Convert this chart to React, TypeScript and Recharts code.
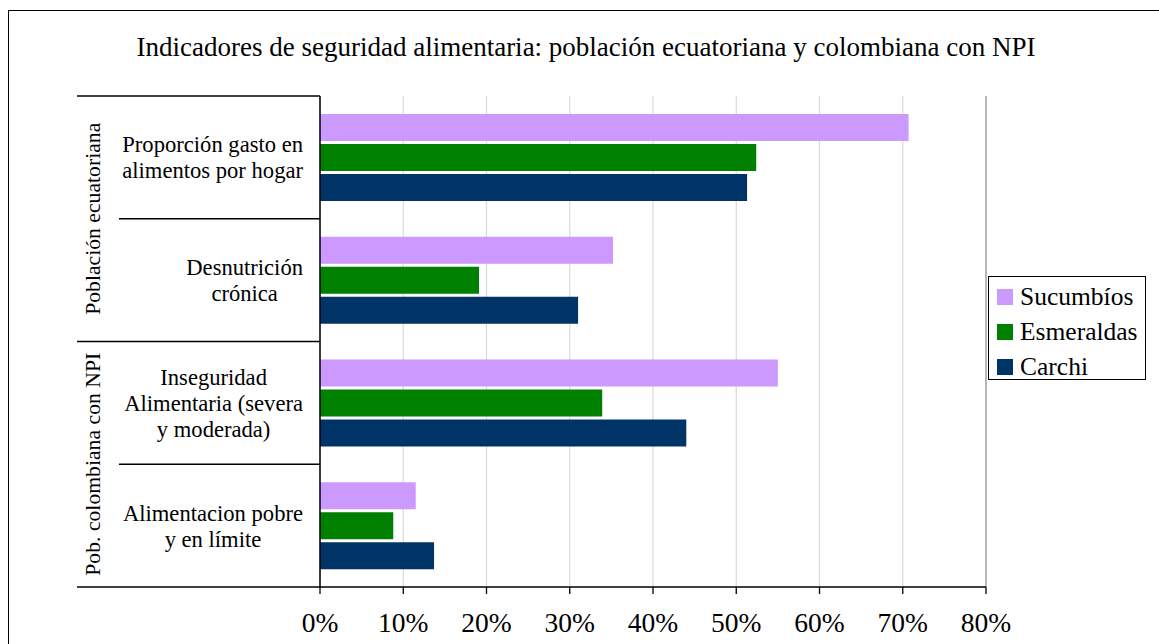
import React from 'react';
import { BarChart, Bar, XAxis, YAxis, CartesianGrid, ReferenceLine } from 'recharts';

const categories = [
  'Proporción gasto en alimentos por hogar',
  'Desnutrición crónica',
  'Inseguridad Alimentaria (severa y moderada)',
  'Alimentacion pobre y en límite',
];
const categoryLines = [
  ['Proporción gasto en', 'alimentos por hogar'],
  ['Desnutrición', 'crónica'],
  ['Inseguridad', 'Alimentaria (severa', 'y moderada)'],
  ['Alimentacion pobre', 'y en límite'],
];
const groups = [
  { label: 'Población ecuatoriana', start: 0, count: 2 },
  { label: 'Pob. colombiana con NPI', start: 2, count: 2 },
];
const sucumbios = [0.707, 0.352, 0.55, 0.115];
const esmeraldas = [0.524, 0.191, 0.339, 0.088];
const carchi = [0.513, 0.31, 0.44, 0.137];
const seriesNames = ['Sucumbíos', 'Esmeraldas', 'Carchi'];
const seriesColors = ['#CC99FF', '#008000', '#003366'];
const xTicks = [0, 0.1, 0.2, 0.3, 0.4, 0.5, 0.6, 0.7, 0.8];
const title = 'Indicadores de seguridad alimentaria: población ecuatoriana y colombiana con NPI';

const data = categories.map((c, i) => ({
  name: c,
  s: sucumbios[i],
  e: esmeraldas[i],
  c: carchi[i],
}));

const FONT = '"Liberation Serif", serif';
const W = 1159;
const H = 644;
const M = { top: 96, right: 173, bottom: 5, left: 20 };
const Y_AXIS_W = 300;
const X_AXIS_H = 52;
const plotTop = M.top;
const plotBottom = H - M.bottom - X_AXIS_H;
const plotLeft = M.left + Y_AXIS_W;
const band = (plotBottom - plotTop) / categories.length;

let ctx: CanvasRenderingContext2D | null = null;
function measure(text: string, size: number) {
  if (!ctx) {
    const cv = document.createElement('canvas');
    ctx = cv.getContext('2d');
  }
  if (!ctx) return text.length * size * 0.45;
  ctx.font = `${size}px ${FONT}`;
  return ctx.measureText(text).width;
}

const LABEL_SIZE = 22.6;
const LINE_H = 26;

const CategoryTick = (props: any) => {
  const { y, payload, index } = props;
  const lines = categoryLines[index] || [String(payload.value)];
  const maxW = Math.max(...lines.map((l) => measure(l, LABEL_SIZE)));
  const cx = plotLeft - 17 - maxW / 2;
  const top = y - band / 2;
  const bottom = y + band / 2;
  const group = groups.find((g) => g.start === index);
  const isGroupStart = !!group;
  const isLast = index === categories.length - 1;
  const firstY = y - ((lines.length - 1) * LINE_H) / 2;
  return (
    <g>
      <line x1={isGroupStart ? 77 : 119} x2={plotLeft} y1={top} y2={top} stroke="#000" strokeWidth={1.3} />
      {isLast && <line x1={77} x2={plotLeft} y1={bottom} y2={bottom} stroke="#000" strokeWidth={1.3} />}
      <text x={cx} y={firstY} textAnchor="middle" dominantBaseline="central" fontFamily={FONT} fontSize={LABEL_SIZE} fill="#000">
        {lines.map((l, k) => (
          <tspan key={k} x={cx} y={firstY + k * LINE_H}>
            {l}
          </tspan>
        ))}
      </text>
      {group && (
        <text
          x={93}
          y={top + (band * group.count) / 2}
          transform={`rotate(-90 93 ${top + (band * group.count) / 2})`}
          textAnchor="middle"
          dominantBaseline="central"
          fontFamily={FONT}
          fontSize={21.7}
          fill="#000"
        >
          {group.label}
        </text>
      )}
    </g>
  );
};

const LegendBox = () => (
  <div
    style={{
      position: 'absolute',
      left: 988,
      top: 276,
      border: '1.5px solid #000',
      background: '#fff',
      width: 158,
      height: 104,
      boxSizing: 'border-box',
      padding: '2px 0 0 8px',
      fontFamily: FONT,
      fontSize: 25.5,
      color: '#000',
      textAlign: 'left',
    }}
  >
    {seriesNames.map((n, i) => (
      <div key={n} style={{ display: 'flex', alignItems: 'center', height: 35 }}>
        <span style={{ display: 'inline-block', width: 16, height: 16, background: seriesColors[i], marginRight: 7 }} />
        <span style={{ lineHeight: '35px' }}>{n}</span>
      </div>
    ))}
  </div>
);

export default function App() {
  return (
    <div style={{ position: 'absolute', left: 0, top: 0, width: W, height: H, overflow: 'hidden', background: '#fff' }}>
      <div
        style={{
          position: 'absolute',
          left: 8,
          top: 10,
          width: 1200,
          height: 700,
          border: '1.5px solid #000',
          boxSizing: 'border-box',
        }}
      />
      <div
        style={{
          position: 'absolute',
          left: 0,
          top: 29,
          width: 1172,
          textAlign: 'center',
          fontFamily: FONT,
          fontSize: 27,
          color: '#000',
          lineHeight: '36px',
          whiteSpace: 'nowrap',
        }}
      >
        {title}
      </div>
      <div style={{ position: 'absolute', left: 0, top: 0 }}>
        <BarChart
          width={W}
          height={H}
          data={data}
          layout="vertical"
          margin={M}
          barCategoryGap={18}
          barGap={3}
        >
          <CartesianGrid horizontal={false} stroke="#d9d9d9" strokeWidth={1.2} />
          <XAxis
            type="number"
            domain={[0, 0.8]}
            ticks={xTicks}
            interval={0}
            height={X_AXIS_H}
            tickFormatter={(v: number) => `${Math.round(v * 100)}%`}
            axisLine={{ stroke: '#000', strokeWidth: 1.3 }}
            tickLine={{ stroke: '#000', strokeWidth: 1.3 }}
            tickSize={7}
            tickMargin={18}
            tick={{ fontFamily: FONT, fontSize: 27.5, fill: '#000' }}
          />
          <XAxis
            xAxisId="top"
            orientation="top"
            type="number"
            domain={[0, 0.8]}
            height={0}
            tick={false}
            tickLine={false}
            axisLine={{ stroke: '#888', strokeWidth: 1 }}
          />
          <YAxis
            type="category"
            dataKey="name"
            width={Y_AXIS_W}
            interval={0}
            tickLine={false}
            axisLine={{ stroke: '#000', strokeWidth: 1.5 }}
            tick={<CategoryTick />}
          />
          <ReferenceLine x={0.8} stroke="#888" strokeWidth={1} />
          <Bar dataKey="s" name={seriesNames[0]} fill={seriesColors[0]} isAnimationActive={false} />
          <Bar dataKey="e" name={seriesNames[1]} fill={seriesColors[1]} isAnimationActive={false} />
          <Bar dataKey="c" name={seriesNames[2]} fill={seriesColors[2]} isAnimationActive={false} />
        </BarChart>
      </div>
      <LegendBox />
    </div>
  );
}
